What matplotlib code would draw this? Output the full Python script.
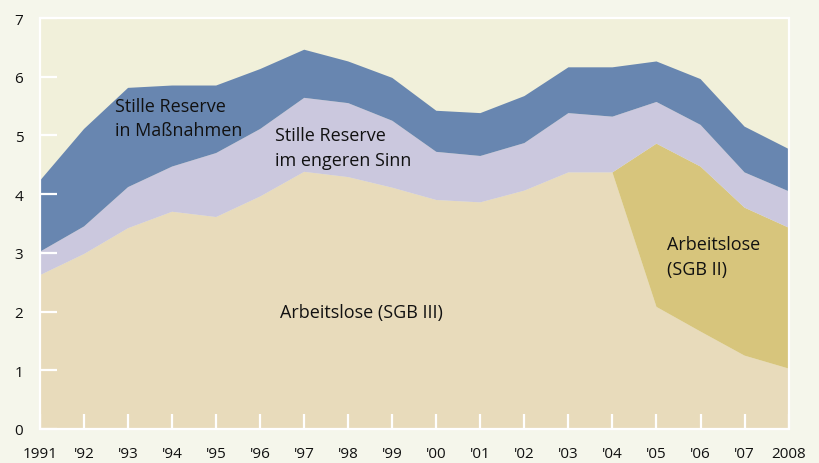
import matplotlib
matplotlib.use("Agg")
import matplotlib.pyplot as plt
from matplotlib import font_manager
import numpy as np

years = list(range(1991, 2009))
xlabels = ["1991", "'92", "'93", "'94", "'95", "'96", "'97", "'98", "'99", "'00",
           "'01", "'02", "'03", "'04", "'05", "'06", "'07", "2008"]

# millions
arbeitslose_sgb3 = [2.62, 2.98, 3.42, 3.70, 3.61, 3.96, 4.38, 4.29, 4.11, 3.90,
                    3.86, 4.06, 4.37, 4.37, 2.08, 1.66, 1.25, 1.03]
arbeitslose_sgb2 = [0, 0, 0, 0, 0, 0, 0, 0, 0, 0,
                    0, 0, 0, 0, 2.78, 2.81, 2.52, 2.40]
stille_reserve_eng = [0.40, 0.47, 0.70, 0.77, 1.09, 1.15, 1.26, 1.26, 1.14, 0.82,
                      0.79, 0.81, 1.01, 0.95, 0.71, 0.71, 0.60, 0.62]
stille_reserve_mass = [1.21, 1.66, 1.69, 1.38, 1.15, 1.02, 0.82, 0.71, 0.73, 0.70,
                       0.73, 0.80, 0.78, 0.84, 0.69, 0.78, 0.78, 0.72]

colors = ["#e8dbbb", "#d7c57c", "#cbc8de", "#6886b0"]
fig_bg = "#f5f6eb"
ax_bg = "#f1f0da"

plt.rcParams['font.family'] = ['Open Sans', 'DejaVu Sans']

names = {f.name for f in font_manager.fontManager.ttflist}
if 'Liberation Sans Narrow' in names:
    ann_family = ['Liberation Sans Narrow', 'DejaVu Sans']
    ann_size = 15.5
else:
    ann_family = ['Open Sans', 'DejaVu Sans']
    ann_size = 13

fig = plt.figure(figsize=(8.19, 4.64), dpi=100, facecolor=fig_bg)
ax = fig.add_axes([40/819, 34/464, (788.6-40)/819, (430-19)/464])
ax.set_facecolor(ax_bg)

ax.stackplot(years, arbeitslose_sgb3, arbeitslose_sgb2, stille_reserve_eng,
             stille_reserve_mass, colors=colors, linewidth=0)

ax.set_xlim(1991, 2008)
ax.set_ylim(0, 7)
ax.set_xticks(years)
ax.set_xticklabels(xlabels)
ax.set_yticks(range(0, 8))

for s in ax.spines.values():
    s.set_color("white")
    s.set_linewidth(1.6)
    s.set_zorder(5)

ax.tick_params(axis='y', direction='in', length=12, width=1.6, color='white',
               pad=12, labelsize=11, labelcolor='#111111')
ax.tick_params(axis='x', direction='in', length=11, width=1.6, color='white',
               pad=12.5, labelsize=11, labelcolor='#111111')
for t in ax.get_yticklines() + ax.get_xticklines():
    t.set_zorder(6)

tc = '#111111'
labels = [
    (1992.71, 5.42, "Stille Reserve"),
    (1992.71, 5.00, "in Maßnahmen"),
    (1996.34, 4.915, "Stille Reserve"),
    (1996.34, 4.49, "im engeren Sinn"),
    (1996.46, 1.91, "Arbeitslose (SGB III)"),
    (2005.23, 3.07, "Arbeitslose"),
    (2005.23, 2.64, "(SGB II)"),
]
for x, y, s in labels:
    ax.text(x, y, s, fontsize=ann_size, family=ann_family, color=tc,
            va='baseline', ha='left')

fig.savefig("out.png", dpi=100, facecolor=fig_bg)
